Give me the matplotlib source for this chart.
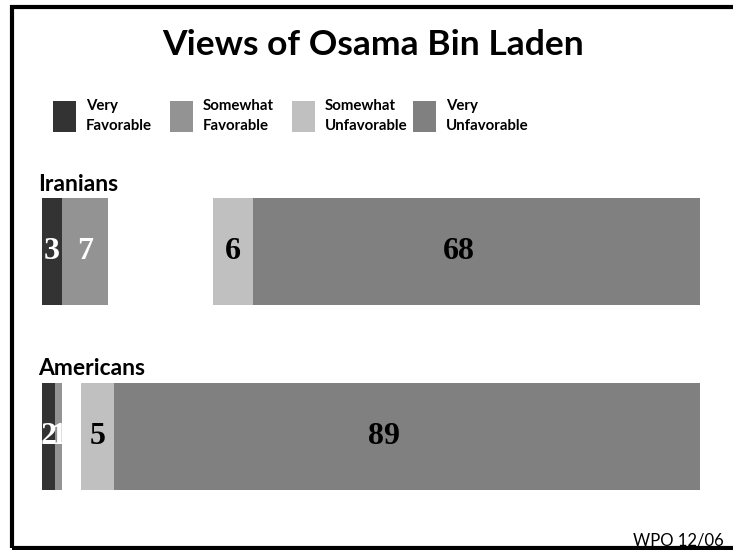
import matplotlib
matplotlib.use("Agg")
import matplotlib.pyplot as plt
from matplotlib.patches import Rectangle

# Data
groups = ["Iranians", "Americans"]
very_fav = [3, 2]
somewhat_fav = [7, 1]
somewhat_unfav = [6, 5]
very_unfav = [68, 89]

series_names = ["Very\nFavorable", "Somewhat\nFavorable",
                "Somewhat\nUnfavorable", "Very\nUnfavorable"]
colors = ["#333333", "#939393", "#c0c0c0", "#808080"]
label_colors = ["white", "white", "black", "black"]

sans = ["Lato", "DejaVu Sans"]
serif = ["Liberation Serif", "DejaVu Serif"]

fig = plt.figure(figsize=(7.33, 5.5), dpi=100)
ax = fig.add_axes([0.0573, 0.0395, 0.8977, 0.671])

# favorable stacks from the left, unfavorable stacks flush to 100
for i, g in enumerate(groups):
    segs = [(0, very_fav[i]),
            (very_fav[i], somewhat_fav[i]),
            (100 - very_unfav[i] - somewhat_unfav[i], somewhat_unfav[i]),
            (100 - very_unfav[i], very_unfav[i])]
    for k, (left, w) in enumerate(segs):
        ax.barh(i, w, left=left, height=0.58, color=colors[k], linewidth=0)
        frac = 0.46 if w > 20 else 0.5
        ax.text(left + w * frac, i, str(w), ha="center", va="center",
                fontsize=23, fontweight="bold", family=serif,
                color=label_colors[k])
    ax.text(-0.6, i - 0.365, g, ha="left", va="center", fontsize=16.5,
            fontweight="bold", family=sans)

ax.set_xlim(0, 100)
ax.set_ylim(1.5, -0.5)
ax.axis("off")

fig.text(373 / 733, 1 - 45 / 550, "Views of Osama Bin Laden", ha="center",
         va="center", fontsize=25.5, fontweight="bold", family=sans)

# legend
box_x = [53, 170, 292, 413]
for k, name in enumerate(series_names):
    fig.patches.append(Rectangle((box_x[k] / 733, 1 - 132 / 550), 23 / 733,
                                 31 / 550, transform=fig.transFigure,
                                 color=colors[k], linewidth=0))
    fig.text((box_x[k] + 33) / 733, 1 - 116 / 550, name, ha="left",
             va="center", fontsize=10.8, fontweight="bold", family=sans,
             linespacing=1.6)

fig.text(724 / 733, 1 - 541 / 550, "WPO 12/06", ha="right", va="center",
         fontsize=12, family=sans)

# frame round the slide
fig.patches.append(Rectangle((11.5 / 733, 2 / 550), 1.0, 1 - 8.5 / 550,
                             transform=fig.transFigure, fill=False,
                             edgecolor="black", linewidth=3, clip_on=False))

fig.savefig("out.png", dpi=100, facecolor="white")
